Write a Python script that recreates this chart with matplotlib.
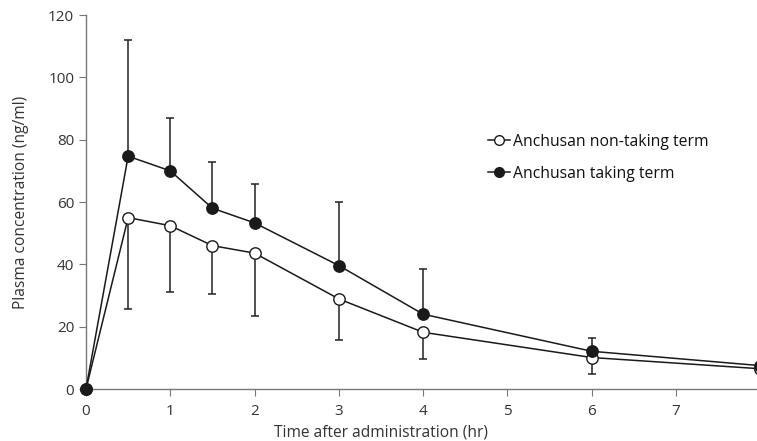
import numpy as np
import matplotlib
matplotlib.use("Agg")
import matplotlib.pyplot as plt

plt.rcParams['font.family'] = ['Open Sans', 'DejaVu Sans']

time_hr = [0, 0.5, 1, 1.5, 2, 3, 4, 6, 8]

non_taking = [0, 55.0, 52.4, 46.0, 43.6, 28.9, 18.2, 10.1, 6.5]
non_taking_sd = [0, 29.3, 21.2, 15.5, 20.1, 13.2, 8.7, 5.3, 0]

taking = [0, 74.7, 70.0, 58.0, 53.3, 39.6, 24.0, 12.1, 7.5]
taking_sd = [0, 37.3, 17.0, 14.9, 12.4, 20.3, 14.4, 4.4, 0]

gray = "#777777"
txt = "#333333"

fig = plt.figure(figsize=(7.57, 4.41), dpi=100)
ax = fig.add_axes([0.1136, 0.1179, 0.8864, 0.848])

# one-sided error bars: down for non-taking, up for taking
ax.errorbar(time_hr, non_taking,
            yerr=[non_taking_sd, np.zeros(len(non_taking_sd))],
            fmt="none", ecolor="#222222", elinewidth=1.1, capsize=3, capthick=1.1,
            zorder=2)
ax.errorbar(time_hr, taking,
            yerr=[np.zeros(len(taking_sd)), taking_sd],
            fmt="none", ecolor="#222222", elinewidth=1.1, capsize=3, capthick=1.1,
            zorder=2)

ax.plot(time_hr, non_taking, color="#1a1a1a", linewidth=1.1,
        marker="o", markersize=8.2, markerfacecolor="white",
        markeredgecolor="#1a1a1a", markeredgewidth=1.0,
        label="Anchusan non-taking term", zorder=3, clip_on=False)
ax.plot(time_hr, taking, color="#1a1a1a", linewidth=1.1,
        marker="o", markersize=8.2, markerfacecolor="#1a1a1a",
        markeredgecolor="#1a1a1a",
        label="Anchusan taking term", zorder=4, clip_on=False)

ax.set_xlim(0, 7.96)
ax.set_ylim(0, 120)
ax.set_xticks(range(0, 8))
ax.set_yticks(range(0, 121, 20))

for side in ["top", "right"]:
    ax.spines[side].set_visible(False)
for side in ["left", "bottom"]:
    ax.spines[side].set_color(gray)
    ax.spines[side].set_linewidth(1.0)

ax.tick_params(axis="both", colors=gray, labelcolor=txt, labelsize=11,
               length=5, direction="out")
ax.tick_params(axis="x", pad=6)

ax.set_xlabel("Time after administration (hr)", fontsize=11.2, color=txt, labelpad=1)
ax.xaxis.set_label_coords(3.5 / 7.96, -0.095)
ax.set_ylabel("Plasma concentration (ng/ml)", fontsize=11.2, color=txt, labelpad=14)

leg = ax.legend(loc="upper left", bbox_to_anchor=(0.578, 0.72), frameon=False,
                fontsize=11.3, handlelength=1.4, handletextpad=0.2,
                labelspacing=1.0, markerscale=0.85)
for t in leg.get_texts():
    t.set_color("#111111")

fig.savefig("out.png", dpi=100)
